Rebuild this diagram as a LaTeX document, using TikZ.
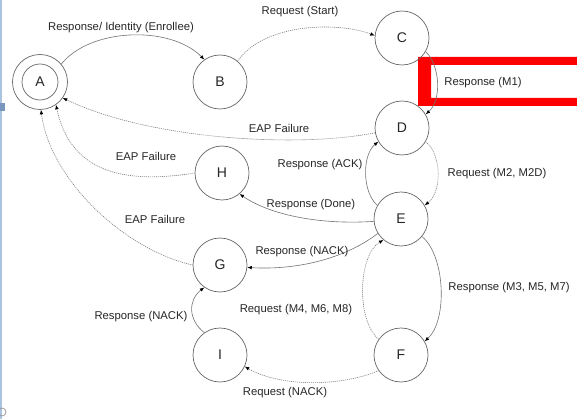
\documentclass[tikz,border=0pt]{standalone}
\usepackage{fontspec}
\setmainfont{Liberation Sans}
\usetikzlibrary{arrows.meta}
\begin{document}
\begin{tikzpicture}[x=1pt,y=-1pt,
  state/.style={circle,draw=black!60,line width=0.7pt,minimum size=54pt,inner sep=0pt,font=\fontsize{14}{16}\selectfont,text=black!85},
  lbl/.style={font=\fontsize{11.3}{13}\selectfont,text=black!85,inner sep=0pt},
  tip/.style={-{Latex[length=4.5pt,width=3.6pt,color=black]}},
  resp/.style={draw=black!55,line width=0.6pt,tip},
  req/.style={resp,draw=black!50,dash pattern=on 1.1pt off 0.9pt}]
\useasboundingbox (0,0) rectangle (577,419);
\fill[white] (0,0) rectangle (577,419);
% left frame artefacts
\draw[color={rgb,255:red,170;green,195;blue,222},line width=1.4pt] (1,0) -- (1,419);
\fill[color={rgb,255:red,120;green,150;blue,190}] (0,103) rectangle (5,111);
\draw[black!40,line width=0.8pt] (2,412) circle[radius=4];
% red annotation frame
\fill[red,even odd rule] (418,57) rectangle (578,106) (431,65) rectangle (578,98);
% states
\node[state,minimum size=55pt] (A) at (40,82) {A};
\draw[black!60,line width=0.7pt] (A.center) circle[radius=18pt];
\node[state] (B) at (220,82) {B};
\node[state] (C) at (402,38) {C};
\node[state] (D) at (402,128) {D};
\node[state] (E) at (401,219) {E};
\node[state] (H) at (222,173) {H};
\node[state] (G) at (220,265) {G};
\node[state] (I) at (220,355) {I};
\node[state] (F) at (401,355) {F};
% connectors
\draw[resp] (A.40) .. controls (90,28) and (170,25) .. (B.125);
\draw[req] (B.50) .. controls (265,22) and (340,22) .. (C.175);
\draw[resp] (C.-30) .. controls (440,65) and (442,100) .. (D.30);
\draw[req] (D.190) .. controls (300,148) and (150,140) .. (A.-35);
\draw[req] (D.-30) .. controls (442,155) and (442,192) .. (E.30);
\draw[resp] (E.150) .. controls (362,192) and (362,155) .. (D.210);
\draw[resp] (E.185) .. controls (320,225) and (270,215) .. (H.-50);
\draw[req] (H.180) .. controls (120,185) and (70,170) .. (A.-55);
\draw[req] (G.180) .. controls (125,250) and (50,180) .. (A.-88);
\draw[resp] (E.212) .. controls (340,262) and (290,270) .. (G.-5);
\draw[resp] (E.-40) .. controls (445,255) and (448,320) .. (F.30);
\draw[req] (F.145) .. controls (356,320) and (358,255) .. (E.230);
\draw[resp] (I.125) .. controls (188,320) and (188,300) .. (G.235);
\draw[req] (F.215) .. controls (340,387) and (280,387) .. (I.-25);
% labels
\node[lbl] (lAB) at (121,28) {Response/ Identity (Enrollee)};
\node[lbl] (lBC) at (300,12) {Request (Start)};
\node[lbl] (lCD) at (483,83) {Response (M1)};
\node[lbl] (lDA) at (279,128) {EAP Failure};
\node[lbl] (lDE) at (497,174) {Request (M2, M2D)};
\node[lbl] (lED) at (320,165) {Response (ACK)};
\node[lbl] (lEH) at (311,205) {Response (Done)};
\node[lbl] (lHA) at (146,156) {EAP Failure};
\node[lbl] (lGA) at (155,219) {EAP Failure};
\node[lbl] (lEG) at (302,252) {Response (NACK)};
\node[lbl] (lFE) at (296,310) {Request (M4, M6, M8)};
\node[lbl] (lEF) at (509,288) {Response (M3, M5, M7)};
\node[lbl] (lIG) at (141,317) {Response (NACK)};
\node[lbl] (lFI) at (285,393) {Request (NACK)};
\end{tikzpicture}
\end{document}
